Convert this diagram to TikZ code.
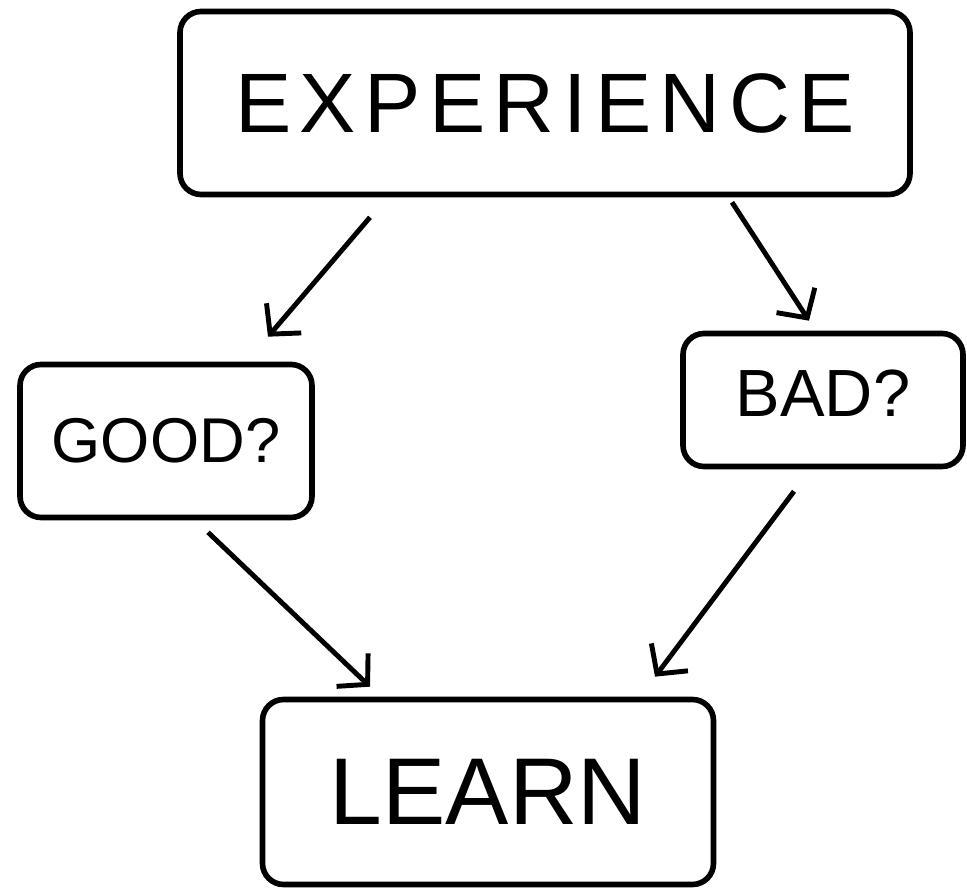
\documentclass[tikz,border=0pt]{standalone}
\usepackage{fontspec}
\setmainfont{Liberation Sans}
\usetikzlibrary{arrows.meta}

\begin{document}
\begin{tikzpicture}[y=-1cm,
  box/.style={draw=black, line width=1.6pt, rounded corners=6pt, inner sep=0pt},
  arr/.style={draw=black, line width=1.4pt, -{Straight Barb[length=6pt,width=13pt,line width=1.4pt]}}]

\useasboundingbox (0,0) rectangle (9.67,8.93);

% boxes:
\node[box, minimum width=7.3cm, minimum height=1.83cm] (exp) at (5.45,1.03)
  {\fontsize{24}{28}\selectfont\addfontfeatures{LetterSpace=10}EXPERIENCE};
\node[box, minimum width=2.92cm, minimum height=1.53cm] (good) at (1.66,4.41)
  {\fontsize{18}{22}\selectfont GOOD?};
\node[box, minimum width=2.8cm, minimum height=1.33cm] (bad) at (8.23,4.0)
  {\raisebox{4pt}{\fontsize{19}{22}\selectfont BAD?}};
\node[box, minimum width=4.51cm, minimum height=1.85cm] (learn) at (4.88,7.92)
  {\fontsize{27}{32}\selectfont LEARN};

% arrows:
\draw[arr] ([xshift=-1.75cm,yshift=-0.2cm]exp.south) -- ([xshift=1.02cm,yshift=0.25cm]good.north);
\draw[arr] ([xshift=1.87cm,yshift=-0.05cm]exp.south) -- ([xshift=-0.14cm,yshift=0.1cm]bad.north);
\draw[arr] ([xshift=0.42cm,yshift=-0.12cm]good.south) -- ([xshift=-1.18cm,yshift=0.1cm]learn.north);
\draw[arr] ([xshift=-0.29cm,yshift=-0.22cm]bad.south) -- ([xshift=1.67cm,yshift=0.2cm]learn.north);

\end{tikzpicture}
\end{document}
